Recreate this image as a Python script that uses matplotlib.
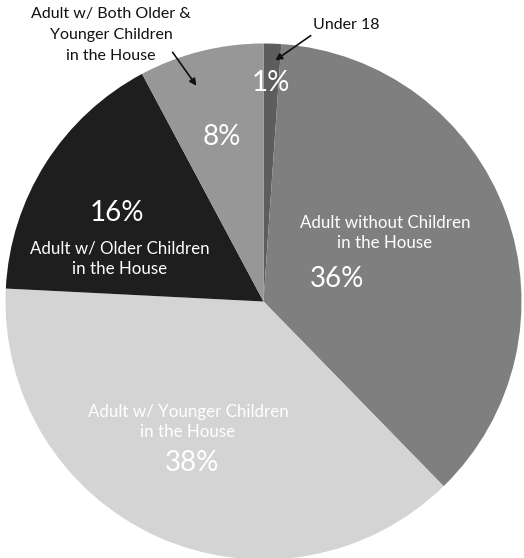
import matplotlib
matplotlib.use("Agg")
import matplotlib.pyplot as plt

# shares, clockwise from 12 o'clock
groups = ["Under 18", "Adult without Children\nin the House",
          "Adult w/ Younger Children\nin the House",
          "Adult w/ Older Children\nin the House",
          "Adult w/ Both Older &\nYounger Children\nin the House"]
shares = [1.1, 36.6, 38.1, 16.4, 7.8]
pct_labels = ["1%", "36%", "38%", "16%", "8%"]
colors = ["#5d5d5d", "#7f7f7f", "#d4d4d4", "#1e1e1e", "#979797"]

W, H = 524, 558
plt.rcParams['font.family'] = ['Lato', 'DejaVu Sans']

fig = plt.figure(figsize=(W / 100, H / 100), dpi=100)
ax = fig.add_axes([0, 0, 1, 1])

cx, cy, r = 263.5, H - 301.5, 258
ax.pie(shares, colors=colors, startangle=90, counterclock=False,
       center=(cx, cy), radius=r, frame=True,
       wedgeprops=dict(linewidth=0))
ax.set_xlim(0, W)
ax.set_ylim(0, H)
ax.set_aspect('equal')
ax.axis('off')

def px(x, y):
    return x, H - y

# percentage labels
pct_pos = [(271, 83), (337, 279), (192, 463), (117, 213), (222, 137)]
for lab, (x, y) in zip(pct_labels, pct_pos):
    ax.text(*px(x, y), lab, color="white", fontsize=20, ha="center", va="center")

# category labels inside the wedges
inner = [(1, 385, 233), (2, 188, 422), (3, 120, 259)]
for i, x, y in inner:
    ax.text(*px(x, y), groups[i], color="white", fontsize=12.2, ha="center",
            va="center", linespacing=1.35)

# outside labels with arrows
ax.text(*px(111, 35), groups[4], color="#111111", fontsize=11.5, ha="center",
        va="center", linespacing=1.65)
ax.annotate("", xy=px(198, 88), xytext=px(171, 50),
            arrowprops=dict(arrowstyle="-|>", color="#111111", lw=1.2,
                            mutation_scale=10))
ax.text(*px(346, 25), groups[0], color="#111111", fontsize=11.5, ha="center",
        va="center")
ax.annotate("", xy=px(273, 62), xytext=px(313, 34),
            arrowprops=dict(arrowstyle="-|>", color="#111111", lw=1.2,
                            mutation_scale=10))

fig.savefig("out.png", dpi=100, facecolor="white")
